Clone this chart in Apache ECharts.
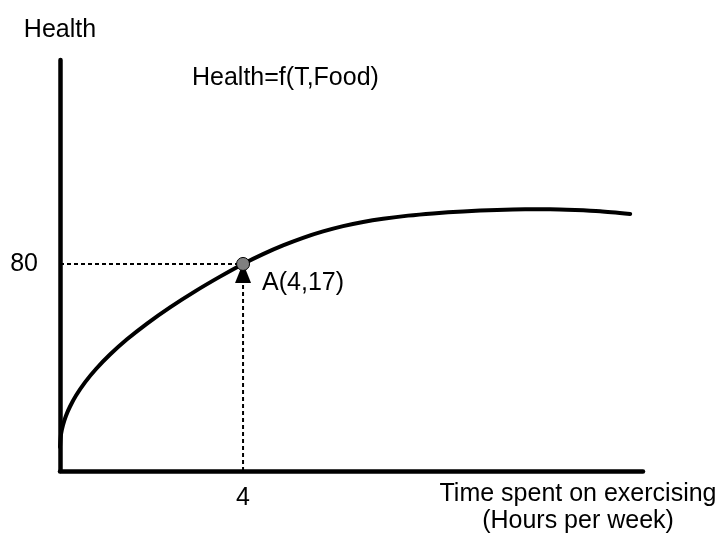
<!DOCTYPE html>
<html>
<head>
<meta charset="utf-8">
<script src="https://cdn.jsdelivr.net/npm/echarts@6/dist/echarts.min.js"></script>
<style>html,body{margin:0;padding:0;background:#fff}#c{width:728px;height:534px}</style>
</head>
<body>
<div id="c"></div>
<script>
// Curve points (hours/week, health)
const curveX = [0, 0.022, 0.066, 0.131, 0.219, 0.35, 0.546, 0.787, 1.093, 1.464, 1.902, 2.404, 2.951, 3.497, 4,
                4.437, 4.874, 5.311, 5.749, 6.186, 6.623, 7.06, 7.607, 8.153, 8.809, 9.552, 10.164, 10.71, 11.257, 11.803, 12.459];
const curveY = [9.28, 14.16, 17.78, 21.35, 24.92, 29.16, 34.26, 39.42, 45.0, 50.88, 56.98, 63.24, 69.42, 75.1, 80,
                83.79, 87.15, 90.09, 92.56, 94.61, 96.23, 97.47, 98.67, 99.52, 100.29, 100.87, 101.1, 101.1, 100.83, 100.37, 99.32];
// Highlighted point A
const pointA = [4, 80];
const pointLabel = 'A(4,17)';
const arrowPos = [4, 76.5];
const dashH = [[0, 80], [4, 80]];
const dashV = [[4, 0], [4, 72.7]];
const xTicks = [4];
const yTicks = [80];
const xName = 'Time spent on exercising\n(Hours per week)';
const yName = 'Health';
const formula = 'Health=f(T,Food)';

const FONT = '"Liberation Sans", Arial, sans-serif';
const curve = curveX.map((x, i) => [x, curveY[i]]);
const dashStyle = { color: '#000', width: 2, type: [4, 3] };

const chart = echarts.init(document.getElementById('c'), null, { renderer: 'canvas' });
chart.setOption({
  animation: false,
  backgroundColor: '#fff',
  grid: { left: 60, top: 60, right: 85, bottom: 63 },
  xAxis: {
    type: 'value', min: 0, max: 12.74,
    axisLine: { lineStyle: { color: '#000', width: 4.5, cap: 'round' } },
    axisTick: { show: false },
    splitLine: { show: false },
    axisLabel: { customValues: xTicks, color: '#000', fontSize: 25, fontFamily: FONT, margin: 15 }
  },
  yAxis: {
    type: 'value', min: 0, max: 158.8,
    name: yName, nameGap: 17,
    nameTextStyle: { color: '#000', fontSize: 25, fontFamily: FONT },
    axisLine: { show: true, lineStyle: { color: '#000', width: 4.5, cap: 'round' } },
    axisTick: { show: false },
    splitLine: { show: false },
    axisLabel: { customValues: yTicks, color: '#000', fontSize: 25, fontFamily: FONT, margin: 22 }
  },
  graphic: [
    { type: 'text', left: 192, top: 66, style: { text: formula, fill: '#000', font: '25px ' + FONT } },
    { type: 'text', x: 578, y: 481, style: { text: xName, fill: '#000', font: '25px ' + FONT, align: 'center', lineHeight: 27 } }
  ],
  series: [
    { type: 'line', data: dashH, symbol: 'none', lineStyle: dashStyle, z: 1, silent: true },
    { type: 'line', data: dashV, symbol: 'none', lineStyle: dashStyle, z: 1, silent: true },
    { type: 'line', data: curve, symbol: 'none', smooth: 0.25,
      lineStyle: { color: '#000', width: 4, cap: 'round', join: 'round' }, z: 2, silent: true },
    { type: 'scatter', data: [arrowPos], symbol: 'triangle', symbolSize: [16, 20],
      itemStyle: { color: '#000', opacity: 1 }, z: 3, silent: true,
      label: { show: true, formatter: pointLabel, position: 'right', distance: 11, offset: [0, 10],
               color: '#000', fontSize: 25, fontFamily: FONT } },
    { type: 'scatter', data: [pointA], symbol: 'circle', symbolSize: 13,
      itemStyle: { color: '#808080', borderColor: '#000', borderWidth: 1, opacity: 1 }, z: 4, silent: true }
  ]
});
</script>
</body>
</html>
